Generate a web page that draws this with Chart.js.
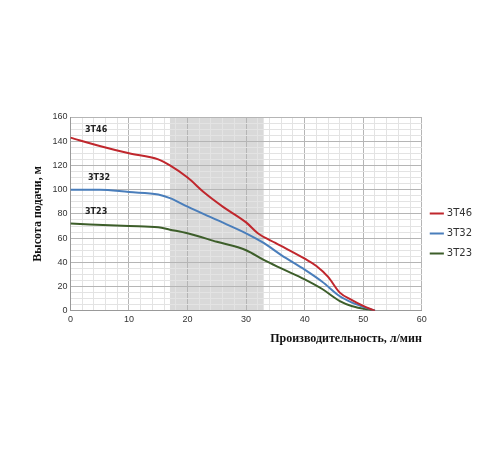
<!DOCTYPE html>
<html>
<head>
<meta charset="utf-8">
<script src="https://cdn.jsdelivr.net/npm/chart.js@4"></script>
<style>body{margin:0;background:#fff}</style>
</head>
<body>
<canvas id="c" width="500" height="450"></canvas>
<script>
const seriesNames = ['3T46', '3T32', '3T23'];
const seriesColors = ['#c0272d', '#4a7ebb', '#3d5e2a'];
const flow46 = [0, 5, 10, 15, 17, 20, 23, 26, 30, 32, 35, 40, 42, 44, 46, 48, 50, 52];
const head46 = [143, 136, 130, 125, 120, 110, 97, 86, 73, 64, 56, 43, 37, 28, 15, 9, 4, 0];
const flow32 = [0, 5, 10, 15, 17, 20, 25, 30, 33, 36, 40, 43, 46, 48, 52];
const head32 = [100, 100, 98, 96, 93, 86, 75, 64, 56, 46, 34, 24, 12, 7, 0];
const flow23 = [0, 10, 15, 17, 20, 25, 30, 33, 36, 40, 43, 46, 48, 52];
const head23 = [72, 70, 69, 67, 64, 57, 50, 42, 35, 26, 18, 8, 4, 0];
const band = [17, 33];
const labelPos = [[2.5, 148], [3, 108], [2.5, 80]];

const toPts = (xs, ys) => xs.map((x, i) => ({ x: x, y: ys[i] }));
const allData = [toPts(flow46, head46), toPts(flow32, head32), toPts(flow23, head23)];

const bandPlugin = {
  id: 'band',
  beforeDraw(chart) {
    const { ctx, chartArea, scales } = chart;
    ctx.save();
    ctx.fillStyle = '#d9d9d9';
    const x1 = scales.x.getPixelForValue(band[0]);
    const x2 = scales.x.getPixelForValue(band[1]);
    ctx.fillRect(x1, chartArea.top, x2 - x1, chartArea.bottom - chartArea.top);
    ctx.restore();
  },
  afterDatasetsDraw(chart) {
    const { ctx, scales } = chart;
    ctx.save();
    ctx.fillStyle = '#222';
    ctx.font = 'bold 8px "DejaVu Sans"';
    seriesNames.forEach((n, i) => {
      ctx.fillText(n, scales.x.getPixelForValue(labelPos[i][0]), scales.y.getPixelForValue(labelPos[i][1]));
    });
    ctx.restore();
  }
};

new Chart(document.getElementById('c'), {
  type: 'line',
  data: {
    datasets: seriesNames.map((n, i) => ({
      label: n,
      data: allData[i],
      borderColor: seriesColors[i],
      backgroundColor: seriesColors[i],
      borderWidth: 2,
      pointRadius: 0,
      tension: 0.4,
      cubicInterpolationMode: 'monotone'
    }))
  },
  options: {
    responsive: false,
    animation: false,
    layout: { padding: { top: 117, bottom: 100, left: 27, right: 18 } },
    plugins: {
      legend: {
        position: 'right',
        labels: { usePointStyle: true, pointStyle: 'line', boxWidth: 20, color: '#333', font: { size: 10, family: 'DejaVu Sans' } }
      },
      tooltip: { enabled: false }
    },
    scales: {
      x: {
        type: 'linear', min: 0, max: 60,
        ticks: { stepSize: 2, autoSkip: false, maxRotation: 0, color: '#333', font: { size: 9 }, callback: v => v % 10 === 0 ? v : '' },
        grid: { color: c => c.tick && c.tick.value % 10 === 0 ? '#b5b5b5' : '#e3e3e3', drawTicks: false },
        border: { color: '#999' },
        title: { display: true, text: 'Производительность, л/мин', font: { family: 'Liberation Serif', weight: 'bold', size: 12 }, color: '#111', align: 'end' }
      },
      y: {
        min: 0, max: 160,
        ticks: { stepSize: 5, autoSkip: false, color: '#333', font: { size: 9 }, callback: v => v % 20 === 0 ? v : '' },
        grid: { color: c => c.tick && c.tick.value % 20 === 0 ? '#b5b5b5' : '#e3e3e3', drawTicks: false },
        border: { color: '#999' },
        title: { display: true, text: 'Высота подачи, м', font: { family: 'Liberation Serif', weight: 'bold', size: 12 }, color: '#111' }
      }
    }
  },
  plugins: [bandPlugin]
});
</script>
</body>
</html>
